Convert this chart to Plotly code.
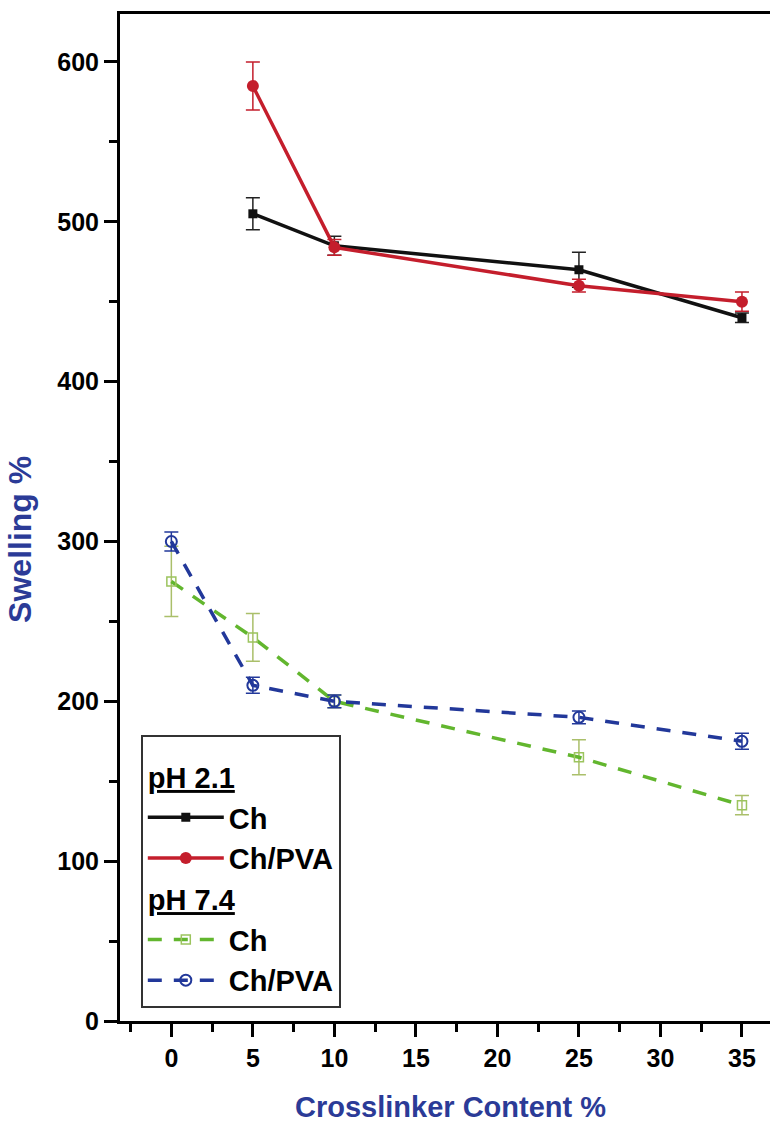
import plotly.graph_objects as go

# ---- data ----
x_ph21 = [5, 10, 25, 35]
ch_ph21 = [505, 485, 470, 440]
ch_ph21_err = [10, 6, 11, 3]
chpva_ph21 = [585, 484, 460, 450]
chpva_ph21_err = [15, 5, 4, 6]

x_ph74 = [0, 5, 10, 25, 35]
ch_ph74 = [275, 240, 200, 165, 135]
ch_ph74_err = [22, 15, 4, 11, 6]
chpva_ph74 = [300, 210, 200, 190, 175]
chpva_ph74_err = [6, 5, 4, 4, 5]

x_ticks = [0, 5, 10, 15, 20, 25, 30, 35]
y_ticks = [0, 100, 200, 300, 400, 500, 600]

BLACK = "#111111"
RED = "#C41E2C"
GREEN = "#62B62E"
GREEN_MK = "#9CC45E"
GREEN_ERR = "#AABF6A"
BLUE = "#22389A"
TITLE_BLUE = "#2B3B97"
FONT = "Liberation Sans, Arial, sans-serif"

fig = go.Figure()

fig.add_trace(go.Scatter(
    x=x_ph21, y=ch_ph21, name="Ch", mode="lines+markers",
    legendgroup="a", legendgrouptitle=dict(text="<u>pH 2.1</u>"),
    line=dict(color=BLACK, width=3.5),
    marker=dict(symbol="square", size=9, color=BLACK),
    error_y=dict(type="data", array=ch_ph21_err, color="#222222", thickness=1.5, width=7),
))
fig.add_trace(go.Scatter(
    x=x_ph21, y=chpva_ph21, name="Ch/PVA", mode="lines+markers",
    legendgroup="a",
    line=dict(color=RED, width=3.5),
    marker=dict(symbol="circle", size=12, color=RED),
    error_y=dict(type="data", array=chpva_ph21_err, color=RED, thickness=1.5, width=7),
))
fig.add_trace(go.Scatter(
    x=x_ph74, y=ch_ph74, name="Ch", mode="lines+markers",
    legendgroup="b", legendgrouptitle=dict(text="<u>pH 7.4</u>"),
    line=dict(color=GREEN, width=3.5, dash="14px,12px"),
    marker=dict(symbol="square-open", size=9, color=GREEN_MK, line=dict(width=1.5)),
    error_y=dict(type="data", array=ch_ph74_err, color=GREEN_ERR, thickness=1.5, width=7),
))
fig.add_trace(go.Scatter(
    x=x_ph74, y=chpva_ph74, name="Ch/PVA", mode="lines+markers",
    legendgroup="b",
    line=dict(color=BLUE, width=3.5, dash="14px,12px"),
    marker=dict(symbol="circle-open", size=11, color=BLUE, line=dict(width=2)),
    error_y=dict(type="data", array=chpva_ph74_err, color=BLUE, thickness=1.5, width=7),
))

fig.update_layout(
    width=770, height=1122,
    margin=dict(l=120, r=0, t=14, b=101),
    paper_bgcolor="white", plot_bgcolor="white",
    font=dict(family=FONT, size=24, color="black"),
    showlegend=True,
    legend=dict(
        x=0.032, y=0.284, xanchor="left", yanchor="top",
        bgcolor="white", bordercolor="#333333", borderwidth=2,
        font=dict(family=FONT, size=29, color="black", weight="bold"),
        grouptitlefont=dict(family=FONT, size=29, color="black", weight="bold"),
        title=dict(text=" ", font=dict(size=11)),
        traceorder="grouped", tracegroupgap=0, itemwidth=76,
    ),
)

fig.update_xaxes(
    range=[-3.15, 36.72], tickmode="array", tickvals=x_ticks,
    ticktext=[str(v) for v in x_ticks],
    showline=True, linecolor="black", linewidth=3, mirror=True,
    ticks="outside", ticklen=13, tickwidth=3, tickcolor="black",
    minor=dict(dtick=2.5, tick0=0, ticks="outside", ticklen=8, tickwidth=3, tickcolor="black"),
    showgrid=False, zeroline=False,
    tickfont=dict(family=FONT, size=25, color="black", weight="bold"),
)
fig.update_yaxes(
    range=[0, 630], tickmode="array", tickvals=y_ticks,
    ticktext=[str(v) for v in y_ticks],
    showline=True, linecolor="black", linewidth=3, mirror=False,
    ticks="outside", ticklen=13, tickwidth=3, tickcolor="black",
    minor=dict(dtick=50, tick0=0, ticks="outside", ticklen=8, tickwidth=3, tickcolor="black"),
    showgrid=False, zeroline=False,
    tickfont=dict(family=FONT, size=25, color="black", weight="bold"),
)

fig.add_annotation(
    text="Crosslinker Content %", xref="paper", yref="paper",
    x=0.508, y=-0.085, xanchor="center", yanchor="middle", showarrow=False,
    font=dict(family=FONT, size=29, color=TITLE_BLUE, weight="bold"),
)
fig.add_annotation(
    text="Swelling %", xref="paper", yref="paper",
    x=-0.155, y=0.478, xanchor="center", yanchor="middle", showarrow=False,
    textangle=-90,
    font=dict(family=FONT, size=32, color=TITLE_BLUE, weight="bold"),
)

fig.write_html("out.html")
